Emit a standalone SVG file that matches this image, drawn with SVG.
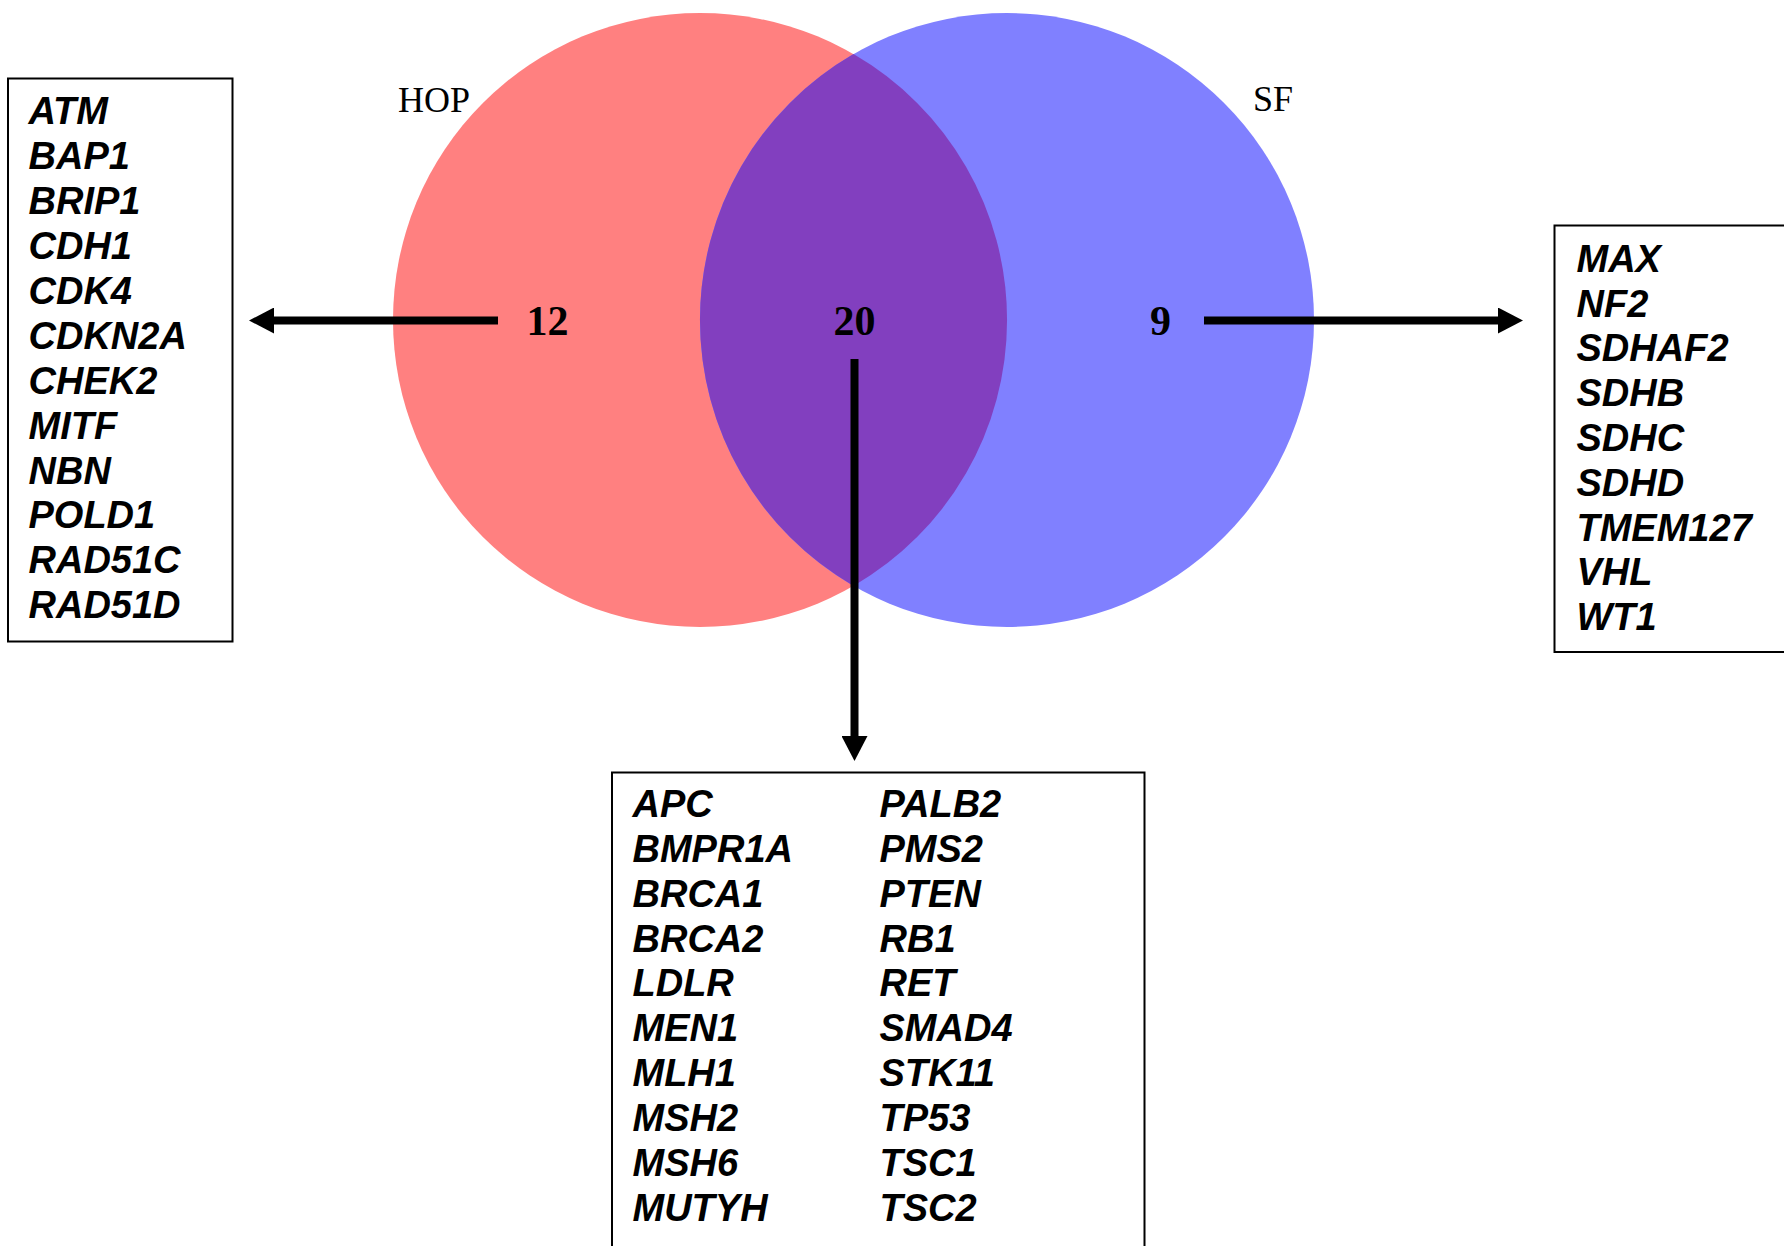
<svg xmlns="http://www.w3.org/2000/svg" width="1784" height="1246" viewBox="0 0 1784 1246">
<style>
.gene{font-family:"Liberation Sans",Arial,sans-serif;font-weight:bold;font-style:italic;font-size:38px;fill:#000}
.num{font-family:"Liberation Serif","Times New Roman",serif;font-weight:bold;font-size:42px;fill:#000;text-anchor:middle}
.set{font-family:"Liberation Serif","Times New Roman",serif;font-size:36px;fill:#000}
.box{fill:#fff;stroke:#000;stroke-width:2}
.conn{stroke:#000;stroke-width:8;fill:none;marker-end:url(#ah)}
</style>
<defs>
<marker id="ah" markerUnits="userSpaceOnUse" markerWidth="26" markerHeight="26" viewBox="0 0 25 26" refX="0" refY="13" orient="auto">
<path d="M0,0 L25,13 L0,26 Z" fill="#000"/>
</marker>
</defs>
<rect width="1784" height="1246" fill="#fff"/>
<g id="venn">
<circle id="hop-circle" cx="700" cy="320" r="307" fill="#FF8080"/>
<circle id="sf-circle" cx="1007" cy="320" r="307" fill="#8080FF"/>
<path id="overlap" d="M853.5,54.1 A307,307 0 0 1 853.5,585.9 A307,307 0 0 1 853.5,54.1 Z" fill="#823FBF"/>
<text class="set" x="398" y="111.5">HOP</text>
<text class="set" x="1253" y="111">SF</text>
<text class="num" x="547.5" y="335">12</text>
<text class="num" x="854.5" y="335">20</text>
<text class="num" x="1160.6" y="335">9</text>
</g>
<g id="connectors">
<line class="conn" x1="498" y1="320.5" x2="274" y2="320.5"/>
<line class="conn" x1="1204" y1="320.5" x2="1498" y2="320.5"/>
<line class="conn" x1="854.5" y1="359" x2="854.5" y2="736"/>
</g>
<g id="hop-only">
<rect class="box" x="8" y="78.5" width="224.5" height="563"/>
<text class="gene" x="28.5" y="124.3">ATM</text>
<text class="gene" x="28.5" y="169.2">BAP1</text>
<text class="gene" x="28.5" y="214.1">BRIP1</text>
<text class="gene" x="28.5" y="259">CDH1</text>
<text class="gene" x="28.5" y="303.9">CDK4</text>
<text class="gene" x="28.5" y="348.8">CDKN2A</text>
<text class="gene" x="28.5" y="393.7">CHEK2</text>
<text class="gene" x="28.5" y="438.6">MITF</text>
<text class="gene" x="28.5" y="483.5">NBN</text>
<text class="gene" x="28.5" y="528.4">POLD1</text>
<text class="gene" x="28.5" y="573.3">RAD51C</text>
<text class="gene" x="28.5" y="618.2">RAD51D</text>
</g>
<g id="sf-only">
<rect class="box" x="1554.5" y="225.5" width="240" height="426.5"/>
<text class="gene" x="1576.5" y="271.7">MAX</text>
<text class="gene" x="1576.5" y="316.5">NF2</text>
<text class="gene" x="1576.5" y="361.3">SDHAF2</text>
<text class="gene" x="1576.5" y="406.1">SDHB</text>
<text class="gene" x="1576.5" y="450.9">SDHC</text>
<text class="gene" x="1576.5" y="495.7">SDHD</text>
<text class="gene" x="1576.5" y="540.5">TMEM127</text>
<text class="gene" x="1576.5" y="585.3">VHL</text>
<text class="gene" x="1576.5" y="630.1">WT1</text>
</g>
<g id="shared">
<rect class="box" x="612" y="772.5" width="532.5" height="490"/>
<text class="gene" x="632.5" y="816.8">APC</text>
<text class="gene" x="632.5" y="861.7">BMPR1A</text>
<text class="gene" x="632.5" y="906.6">BRCA1</text>
<text class="gene" x="632.5" y="951.5">BRCA2</text>
<text class="gene" x="632.5" y="996.4">LDLR</text>
<text class="gene" x="632.5" y="1041.3">MEN1</text>
<text class="gene" x="632.5" y="1086.2">MLH1</text>
<text class="gene" x="632.5" y="1131.1">MSH2</text>
<text class="gene" x="632.5" y="1176">MSH6</text>
<text class="gene" x="632.5" y="1220.9">MUTYH</text>
<text class="gene" x="879.5" y="816.8">PALB2</text>
<text class="gene" x="879.5" y="861.7">PMS2</text>
<text class="gene" x="879.5" y="906.6">PTEN</text>
<text class="gene" x="879.5" y="951.5">RB1</text>
<text class="gene" x="879.5" y="996.4">RET</text>
<text class="gene" x="879.5" y="1041.3">SMAD4</text>
<text class="gene" x="879.5" y="1086.2">STK11</text>
<text class="gene" x="879.5" y="1131.1">TP53</text>
<text class="gene" x="879.5" y="1176">TSC1</text>
<text class="gene" x="879.5" y="1220.9">TSC2</text>
</g>
</svg>
